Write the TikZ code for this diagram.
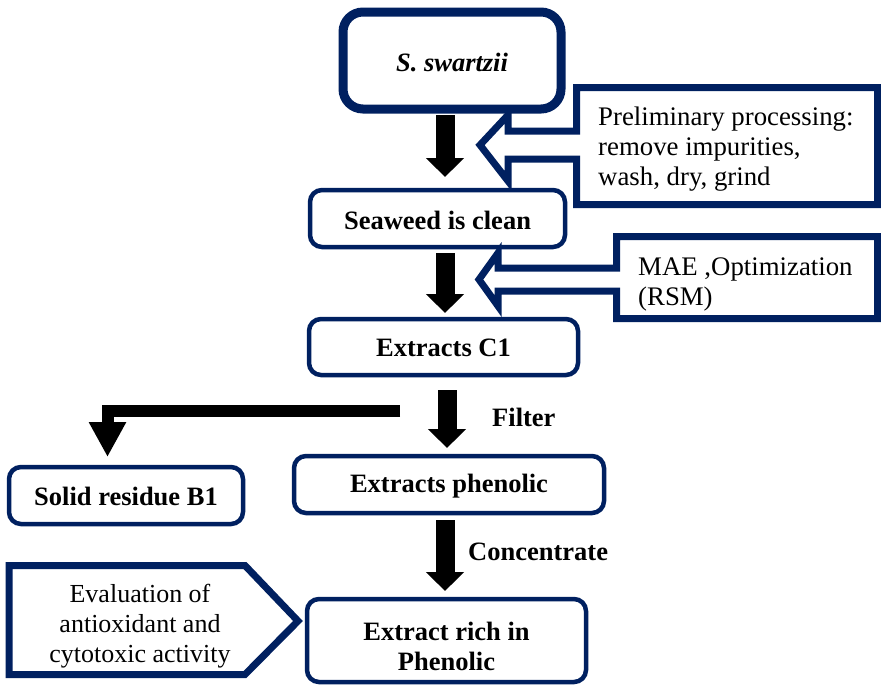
\documentclass[tikz,border=0pt]{standalone}
\usepackage{fontspec}
\setmainfont{Liberation Serif}
\usetikzlibrary{arrows.meta,calc}
\definecolor{navy}{RGB}{0,32,96}
\begin{document}
\begin{tikzpicture}[x=1pt,y=-1pt,
  txt/.style={font=\fontsize{26}{30}\selectfont, inner sep=0pt},
  wtxt/.style={font=\fontsize{26.8}{30}\selectfont, inner sep=0pt},
  btxt/.style={font=\fontsize{26.5}{30}\selectfont\bfseries, inner sep=0pt},
  rbox/.style={draw=navy, line width=4.5pt, rounded corners=12pt, fill=white, inner sep=0pt, align=center, font=\fontsize{26.5}{30}\selectfont\bfseries},
  callout/.style={draw=navy, line width=7pt, fill=white, line join=miter, miter limit=10},
  blk/.style={line width=19pt, -{Triangle[width=37pt,length=19pt]}},
  larrow/.style={line width=12pt, line join=miter, -{Triangle[width=35pt,length=35pt]}},
]
\useasboundingbox (0,0) rectangle (881,686);

% boxes
\node[rbox, line width=9pt, rounded corners=20pt, minimum width=218pt, minimum height=97pt,
      font=\fontsize{26.5}{30}\selectfont\bfseries\itshape, text height=21.5pt, text depth=0pt] (sw) at (452,60.5) {S. swartzii};
\node[rbox, minimum width=255pt, minimum height=57pt, text height=22.5pt, text depth=0pt] (clean) at (437.5,218.5) {Seaweed is clean};
\node[rbox, minimum width=269pt, minimum height=56pt, text height=19.5pt, text depth=0pt] (c1) at (443.5,347) {Extracts C1};
\node[rbox, minimum width=234pt, minimum height=57pt, text height=20.5pt, text depth=0pt] (solid) at (126,495.5) {Solid residue B1};
\node[rbox, minimum width=310pt, minimum height=57pt, text height=15.5pt, text depth=0pt] (phen) at (449,484.5) {Extracts phenolic};
\node[rbox, minimum width=279pt, minimum height=83pt, text height=60pt, text depth=0pt] (rich) at (446.5,640.5) {Extract rich in\\Phenolic};

% callout shapes
\draw[callout] (576.5,87.5) -- (877.5,87.5) -- (877.5,204.5) -- (576.5,204.5) -- (576.5,159)
  -- (508,159) -- (508,181) -- (480,145) -- (508,115) -- (508,131) -- (576.5,131) -- cycle;
\draw[callout] (616.5,236.5) -- (877.5,236.5) -- (877.5,318.5) -- (616.5,318.5) -- (616.5,291)
  -- (498,291) -- (498,306) -- (479,279.5) -- (498,253) -- (498,268) -- (616.5,268) -- cycle;
\draw[callout] (9,565.5) -- (245,565.5) -- (298,621) -- (245,674.5) -- (9,674.5) -- cycle;

% callout texts
\node[wtxt, anchor=west, align=left] (prelim) at (598,149) {Preliminary processing:\\remove impurities,\\wash, dry, grind};
\node[wtxt, anchor=west, align=left] (mae) at (638,284.5) {MAE ,Optimization\\(RSM)};
\node[txt, align=center] (eval) at (140,626) {Evaluation of\\antioxidant and\\cytotoxic activity};

% labels
\node[btxt, anchor=west] (filt) at (492,417) {Filter};
\node[btxt, anchor=west] (conc) at (468,552) {Concentrate};

% block arrows
\coordinate (ax) at (445,0);
\coordinate (bx) at (447,0);
\draw[blk, shorten <=1.5pt, shorten >=10.75pt] (sw.south -| ax) -- (clean.north -| ax);
\draw[blk, shorten <=3.75pt, shorten >=3.75pt] (clean.south -| ax) -- (c1.north -| ax);
\draw[blk, shorten <=12.75pt, shorten >=5.75pt] (c1.south -| bx) -- (phen.north -| bx);
\draw[blk, shorten <=4.75pt, shorten >=5.75pt] (phen.south -| ax) -- (rich.north -| ax);

% L-shaped arrow to solid residue
\coordinate (lstart) at (400,411);
\coordinate (lturn) at (107.5,411);
\draw[larrow, shorten >=7.75pt] (lstart) -- (lturn) -- (solid.north -| lturn);
\end{tikzpicture}
\end{document}
